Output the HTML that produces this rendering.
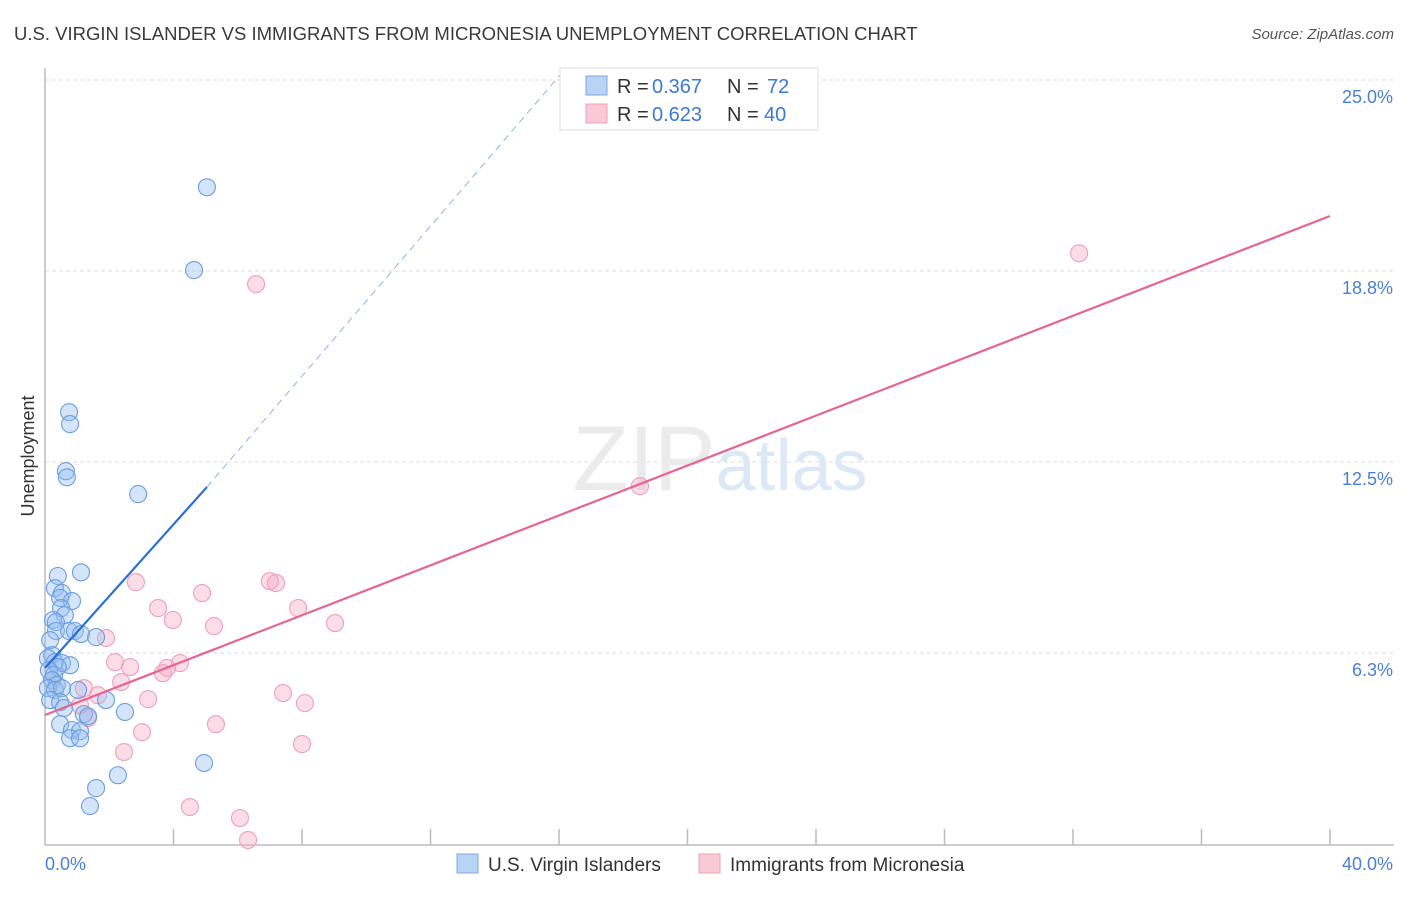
<!DOCTYPE html>
<html><head><meta charset="utf-8"><style>
body{margin:0;background:#fff;font-family:"Liberation Sans",sans-serif;}
svg text{font-family:"Liberation Sans",sans-serif;}
</style></head><body>
<svg id="chart" width="1406" height="892" xmlns="http://www.w3.org/2000/svg">
<text x="14" y="40" font-size="18.5" fill="#3a3a3a">U.S. VIRGIN ISLANDER VS IMMIGRANTS FROM MICRONESIA UNEMPLOYMENT CORRELATION CHART</text>
<text x="1394" y="39" font-size="15" fill="#555" text-anchor="end" font-style="italic">Source: ZipAtlas.com</text>
<g id="grid"></g>
<text x="720" y="490" font-size="92" text-anchor="middle" fill="#ebebeb" font-family="Liberation Serif, serif">ZIP<tspan fill="#dde8f6" font-family="Liberation Sans, sans-serif" font-size="72">atlas</tspan></text>
<line x1="45" y1="68" x2="45" y2="845" stroke="#bbb" stroke-width="1.5"/>
<line x1="45" y1="845" x2="1394" y2="845" stroke="#bbb" stroke-width="1.5"/>
<text transform="translate(34,456) rotate(-90)" font-size="18" fill="#333" text-anchor="middle">Unemployment</text>
<text x="45" y="870" font-size="18" fill="#4a7fd4">0.0%</text>
<text x="1393" y="870" font-size="18" fill="#4a7fd4" text-anchor="end">40.0%</text>
<g id="points"></g>
<g id="trends"></g>
<g>
<rect x="560" y="68" width="258" height="62" fill="#fff" stroke="#ddd"/>
<rect x="586" y="76" width="21" height="19" fill="#b9d3f5" stroke="#7ea7e0"/>
<rect x="586" y="104" width="21" height="19" fill="#f9c9d7" stroke="#eca0b7"/>
<text x="617" y="93" font-size="20" fill="#333">R =</text>
<text x="652" y="93" font-size="20" fill="#3b78d8">0.367</text>
<text x="727" y="93" font-size="20" fill="#333">N =</text>
<text x="767" y="93" font-size="20" fill="#3b78d8">72</text>
<text x="617" y="121" font-size="20" fill="#333">R =</text>
<text x="652" y="121" font-size="20" fill="#3b78d8">0.623</text>
<text x="727" y="121" font-size="20" fill="#333">N =</text>
<text x="764" y="121" font-size="20" fill="#3b78d8">40</text>
</g>
<g>
<rect x="457" y="854" width="21" height="19" fill="#b9d3f5" stroke="#7ea7e0"/>
<text x="488" y="871" font-size="19" fill="#333">U.S. Virgin Islanders</text>
<rect x="699" y="854" width="21" height="19" fill="#f9c9d7" stroke="#eca0b7"/>
<text x="730" y="871" font-size="19" fill="#333">Immigrants from Micronesia</text>
</g>
</svg>
<script>
const yTicks=[6.25,12.5,18.75,25];
const yTickLabels=["6.3%","12.5%","18.8%","25.0%"];
const xTicks=[0,4,8,12,16,20,24,28,32,36,40];
const blueX=[5.04,4.64,0.75,0.78,0.65,0.68,2.90,1.12,0.40,0.31,0.53,0.47,0.84,0.50,0.62,0.25,0.34,0.34,0.75,0.93,1.12,1.59,0.16,0.22,0.09,0.31,0.53,0.78,0.40,0.12,0.28,0.22,0.37,0.09,0.31,0.53,1.03,0.16,0.47,0.59,1.21,1.90,2.49,1.34,0.47,0.84,1.09,0.78,1.09,4.95,2.27,1.59,1.40];
const blueY=[21.49,18.78,14.13,13.74,12.20,12.00,11.45,8.89,8.77,8.37,8.21,8.05,7.95,7.72,7.49,7.33,7.26,6.97,6.97,6.97,6.87,6.77,6.67,6.18,6.08,5.95,5.92,5.85,5.79,5.69,5.53,5.36,5.20,5.10,5.04,5.10,5.04,4.71,4.64,4.45,4.25,4.71,4.32,4.18,3.92,3.73,3.69,3.46,3.46,2.65,2.25,1.83,1.24];
const pinkX=[32.19,6.57,18.52,2.83,7.00,7.19,4.89,3.52,7.88,3.98,5.26,9.03,1.90,2.18,2.65,4.20,3.80,3.67,2.37,0.22,1.21,1.65,3.21,7.41,8.09,1.09,1.34,3.02,5.32,2.46,8.00,4.51,6.07,6.32];
const pinkY=[19.33,18.32,11.71,8.57,8.60,8.54,8.21,7.72,7.72,7.33,7.13,7.23,6.74,5.95,5.79,5.92,5.76,5.59,5.30,5.36,5.10,4.87,4.74,4.94,4.61,4.54,4.12,3.66,3.92,3.01,3.27,1.21,0.85,0.13];
const blueTrend=[[0,5.76],[5.04,11.68]];
const blueDash=[[5.04,11.68],[16.03,25.16]];
const pinkTrend=[[0,4.22],[40,20.55]];
const NS="http://www.w3.org/2000/svg";
const sx=v=>45+v*(1285/40);
const sy=v=>844-v*30.56;
function mk(tag,attrs,parent){const e=document.createElementNS(NS,tag);for(const k in attrs)e.setAttribute(k,attrs[k]);parent.appendChild(e);return e;}
const grid=document.getElementById('grid');
yTicks.forEach((t,i)=>{
 const l=mk('line',{x1:45,x2:1394,y1:sy(t),y2:sy(t),stroke:'#ddd','stroke-dasharray':'4,3'},grid);
 
 
 const tx=mk('text',{x:1393,y:sy(t)+23,'font-size':18,fill:'#4a7fd4','text-anchor':'end'},grid);
 tx.textContent=yTickLabels[i];
 
 
});
xTicks.forEach(t=>{
 if(t===0)return;
 const l=mk('line',{x1:sx(t),x2:sx(t),y1:829,y2:845,stroke:'#bbb','stroke-width':1.5},grid);
 
 
});
const pts=document.getElementById('points');
pinkX.forEach((x,i)=>{
 const c=mk('circle',{cx:sx(x),cy:sy(pinkY[i]),r:8.5,fill:'rgba(246,170,195,0.4)',stroke:'#ee9fb9','stroke-width':1.1},pts);
 
 
});
blueX.forEach((x,i)=>{
 const c=mk('circle',{cx:sx(x),cy:sy(blueY[i]),r:8.5,fill:'rgba(150,190,240,0.4)',stroke:'#6a9de0','stroke-width':1.1},pts);
 
 
});
const tr=document.getElementById('trends');
const l1=mk('line',{x1:sx(blueDash[0][0]),y1:sy(blueDash[0][1]),x2:sx(blueDash[1][0]),y2:sy(blueDash[1][1]),stroke:'#8fb3e6','stroke-width':1,'stroke-dasharray':'7,5'},tr);


const l2=mk('line',{x1:sx(blueTrend[0][0]),y1:sy(blueTrend[0][1]),x2:sx(blueTrend[1][0]),y2:sy(blueTrend[1][1]),stroke:'#2a6fd6','stroke-width':2.2},tr);


const l3=mk('line',{x1:sx(pinkTrend[0][0]),y1:sy(pinkTrend[0][1]),x2:sx(pinkTrend[1][0]),y2:sy(pinkTrend[1][1]),stroke:'#e8648f','stroke-width':2.2},tr);


</script>
</body></html>
